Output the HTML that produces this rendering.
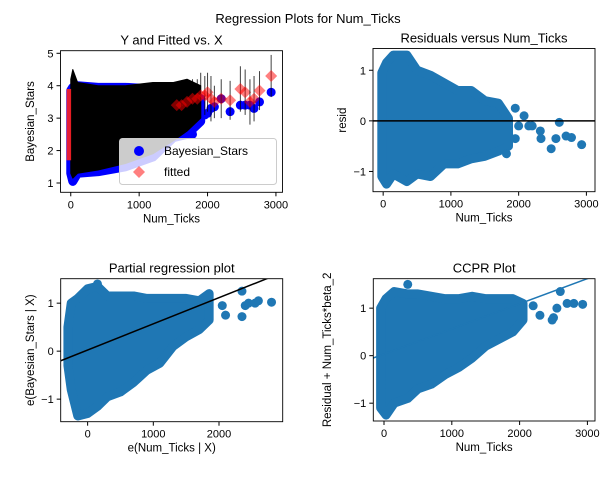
<!DOCTYPE html>
<html><head><meta charset="utf-8"><style>
body{margin:0;background:#fff;}
svg text{font-family:"Liberation Sans","DejaVu Sans",sans-serif;fill:#000;}
</style></head><body>
<svg id="fig" width="616" height="475" xmlns="http://www.w3.org/2000/svg">
<text x="308" y="23" font-size="13" text-anchor="middle">Regression Plots for Num_Ticks</text>
</svg>
<script>
// ---- data ----
// Panel 1: Y and fitted vs X
const p1EnvX=[0,30,100,400,800,1200,1500,1700,1900];
const p1BlueHi=[3.85,3.95,4.0,3.95,3.95,3.9,3.85,3.7,3.6];
const p1BlueLo=[1.3,1.05,1.3,1.35,1.5,1.8,2.4,2.5,2.9];
const p1ErrHi=[4.2,4.5,4.1,4.0,4.0,4.1,4.1,4.2,4.0];
const p1ErrLo=[1.3,1.15,1.3,1.4,1.6,1.9,2.3,2.6,3.0];
const p1SparseX=[1550,1620,1700,1780,1850,1900,1960,2000,2050,2100,2200,2330,2480,2550,2620,2680,2760,2930];
const p1SparseY=[2.6,3.8,2.9,2.5,3.2,3.6,3.1,3.15,3.3,3.35,3.6,3.2,3.4,3.4,3.4,3.3,3.5,3.8];
const p1SparseFit=[3.4,3.4,3.5,3.6,3.6,3.7,3.7,3.8,3.6,3.5,3.6,3.55,3.9,3.8,3.5,3.6,3.85,4.3];
const p1SparseErr=[0.6,0.7,0.6,0.6,0.6,0.7,0.6,0.6,0.7,0.5,0.6,0.6,0.7,0.7,0.7,0.7,0.6,0.65];
// Panel 2: residuals
const p2EnvX=[-20,50,150,350,500,700,900,1100,1300,1500,1700,1850];
const p2Hi=[0.95,1.15,1.3,1.3,1.0,0.9,0.75,0.6,0.6,0.4,0.35,0.05];
const p2Lo=[-1.1,-1.25,-1.05,-1.2,-1.05,-1.1,-0.85,-0.85,-0.75,-0.7,-0.6,-0.5];
const p2SparseX=[1950,2000,2080,2150,2200,2320,2330,2480,2550,2600,2700,2780,2930,1820,1950];
const p2SparseY=[0.25,-0.1,0.1,-0.1,-0.1,-0.2,-0.35,-0.55,-0.35,-0.03,-0.3,-0.33,-0.47,-0.65,-0.35];
// Panel 3: partial regression
const p3EnvX=[-300,-250,-150,0,150,300,500,700,900,1100,1300,1500,1700,1850];
const p3Hi=[0.5,1.0,1.1,1.3,1.35,1.15,1.15,1.15,1.1,1.1,1.1,1.1,1.05,1.2];
const p3Lo=[-0.3,-0.8,-1.35,-1.3,-1.15,-0.95,-0.85,-0.65,-0.4,-0.25,0.1,0.3,0.45,0.65];
const p3SparseX=[2050,2100,2350,2400,2450,2550,2600,2800,2350,150];
const p3SparseY=[0.95,0.75,0.72,0.95,1.0,1.0,1.05,1.02,1.25,1.4];
const p3Line=[-410,-0.2,2800,1.55];
// Panel 4: CCPR
const p4EnvX=[-50,30,150,350,500,700,900,1100,1300,1500,1700,1900,2050];
const p4Hi=[1.0,1.2,1.35,1.3,1.3,1.25,1.2,1.2,1.25,1.2,1.2,1.2,1.1];
const p4Lo=[-1.1,-1.25,-1.0,-0.9,-0.7,-0.6,-0.4,-0.25,-0.05,0.2,0.35,0.5,0.75];
const p4SparseX=[350,2200,2300,2500,2550,2600,2700,2800,2930,2480];
const p4SparseY=[1.5,1.05,0.85,0.8,1.0,1.35,1.1,1.1,1.08,0.75];
const p4Line=[-160,-0.05,3110,1.68];

const xTicksA=[0,1000,2000,3000];
const xTicksB=[0,1000,2000];
const p1YTicks=[1,2,3,4,5];
const resYTicks=[-1,0,1];

const NS="http://www.w3.org/2000/svg";
const fig=document.getElementById('fig');
function el(tag,attrs,parent){const e=document.createElementNS(NS,tag);for(const k in attrs)e.setAttribute(k,attrs[k]);(parent||fig).appendChild(e);return e;}
function scale(d0,d1,r0,r1){return v=>r0+(v-d0)/(d1-d0)*(r1-r0);}

function panel(c){
  const g=el('g',{});
  
  
  const sx=scale(c.xd[0],c.xd[1],c.L,c.R), sy=scale(c.yd[0],c.yd[1],c.B,c.T);
  const cid='clip-'+c.name;
  const cp=el('clipPath',{id:cid},g);el('rect',{x:c.L,y:c.T,width:c.R-c.L,height:c.B-c.T},cp);
  const plot=el('g',{'clip-path':'url(#'+cid+')'},g);
  c.draw(plot,sx,sy);
  const frame=el('rect',{x:c.L,y:c.T,width:c.R-c.L,height:c.B-c.T,fill:'none',stroke:'#000','stroke-width':0.9},g);
  
  
  c.xt.forEach(v=>{const x=sx(v);el('line',{x1:x,x2:x,y1:c.B,y2:c.B+4,stroke:'#000'},g);
    const t=el('text',{x:x,y:c.B+16,'font-size':11,'text-anchor':'middle'},g);t.textContent=v;
    
    });
  c.yt.forEach(v=>{const y=sy(v);el('line',{x1:c.L-4,x2:c.L,y1:y,y2:y,stroke:'#000'},g);
    const t=el('text',{x:c.L-7,y:y+4,'font-size':11,'text-anchor':'end'},g);t.textContent=v<0?'\u2212'+(-v):v;
    
    });
  const ti=el('text',{x:(c.L+c.R)/2,y:c.T-6,'font-size':13,'text-anchor':'middle'},g);ti.textContent=c.title;
  
  
  const xl=el('text',{x:(c.L+c.R)/2,y:c.B+30,'font-size':11.5,'text-anchor':'middle'},g);xl.textContent=c.xl;
  
  
  const yl=el('text',{x:0,y:0,'font-size':11.5,'text-anchor':'middle',transform:`translate(${c.ylx},${(c.T+c.B)/2}) rotate(-90)`},g);yl.textContent=c.yl;
  
  
}
function envelope(p,sx,sy,xs,hi,lo,color,sw){
  let pts=xs.map((x,i)=>sx(x)+','+sy(hi[i]));
  for(let i=xs.length-1;i>=0;i--)pts.push(sx(xs[i])+','+sy(lo[i]));
  const e=el('polygon',{points:pts.join(' '),fill:color,stroke:color,'stroke-width':sw,'stroke-linejoin':'round'},p);
  
  
}
function dots(p,sx,sy,xs,ys,color){
  xs.forEach((x,i)=>{const d=el('circle',{cx:sx(x),cy:sy(ys[i]),r:4.5,fill:color},p);
    
    });
}

panel({name:'y-fitted-panel',L:60.5,R:282.5,T:50.7,B:192.3,xd:[-150,3096],yd:[0.713,5.08],xt:xTicksA,yt:p1YTicks,
 title:'Y and Fitted vs. X',xl:'Num_Ticks',yl:'Bayesian_Stars',ylx:34,
 draw:(p,sx,sy)=>{
  envelope(p,sx,sy,p1EnvX,p1BlueHi,p1BlueLo,'#0000ff',9);
  dots(p,sx,sy,p1SparseX,p1SparseY,'#0000ff');
  envelope(p,sx,sy,p1EnvX,p1ErrHi,p1ErrLo,'#000',1);
  const r=el('rect',{x:sx(-60),y:sy(3.9),width:sx(5)-sx(-60),height:sy(1.7)-sy(3.9),fill:'#ff2020',opacity:0.9},p);
  
  
  p1SparseX.forEach((x,i)=>{
    const l=el('line',{x1:sx(x),x2:sx(x),y1:sy(p1SparseFit[i]-p1SparseErr[i]),y2:sy(p1SparseFit[i]+p1SparseErr[i]),stroke:'#000','stroke-width':1,opacity:0.75},p);
    
    
    const X=sx(x),Y=sy(p1SparseFit[i]);
    const d=el('polygon',{points:`${X},${Y-6} ${X+6},${Y} ${X},${Y+6} ${X-6},${Y}`,fill:'#ff0000',opacity:0.5},p);
    
    
  });
 }});
// legend
{const lg=el('g',{});
 
 
 el('rect',{x:119.5,y:138.5,width:157,height:46,rx:3,fill:'#fff','fill-opacity':0.8,stroke:'#ccc'},lg);
 el('circle',{cx:139,cy:151,r:5,fill:'#0000ff'},lg);
 el('polygon',{points:'139,166 145,172 139,178 133,172',fill:'#ff0000',opacity:0.5},lg);
 const t1=el('text',{x:164,y:155,'font-size':12},lg);t1.textContent='Bayesian_Stars';
 
 
 const t2=el('text',{x:164,y:176,'font-size':12},lg);t2.textContent='fitted';
 
 }

panel({name:'residuals-panel',L:373,R:595,T:48.5,B:191.7,xd:[-150,3127],yd:[-1.40,1.43],xt:xTicksA,yt:resYTicks,
 title:'Residuals versus Num_Ticks',xl:'Num_Ticks',yl:'resid',ylx:346,
 draw:(p,sx,sy)=>{
  envelope(p,sx,sy,p2EnvX,p2Hi,p2Lo,'#1f77b4',9);
  dots(p,sx,sy,p2SparseX,p2SparseY,'#1f77b4');
  const z=el('line',{x1:sx(-200),x2:sx(3200),y1:sy(0),y2:sy(0),stroke:'#000','stroke-width':1.5},p);
  
  
 }});

panel({name:'partial-regression-panel',L:60.7,R:282.7,T:278.7,B:421.7,xd:[-410,2970],yd:[-1.47,1.51],xt:xTicksB,yt:resYTicks,
 title:'Partial regression plot',xl:'e(Num_Ticks | X)',yl:'e(Bayesian_Stars | X)',ylx:34,
 draw:(p,sx,sy)=>{
  envelope(p,sx,sy,p3EnvX,p3Hi,p3Lo,'#1f77b4',9);
  dots(p,sx,sy,p3SparseX,p3SparseY,'#1f77b4');
  const l=el('line',{x1:sx(p3Line[0]),y1:sy(p3Line[1]),x2:sx(p3Line[2]),y2:sy(p3Line[3]),stroke:'#000','stroke-width':1.5},p);
  
  
 }});

panel({name:'ccpr-panel',L:373.3,R:595,T:278.7,B:421,xd:[-158,3112],yd:[-1.375,1.62],xt:xTicksA,yt:resYTicks,
 title:'CCPR Plot',xl:'Num_Ticks',yl:'Residual + Num_Ticks*beta_2',ylx:331,
 draw:(p,sx,sy)=>{
  envelope(p,sx,sy,p4EnvX,p4Hi,p4Lo,'#1f77b4',9);
  dots(p,sx,sy,p4SparseX,p4SparseY,'#1f77b4');
  const l=el('line',{x1:sx(p4Line[0]),y1:sy(p4Line[1]),x2:sx(p4Line[2]),y2:sy(p4Line[3]),stroke:'#1f77b4','stroke-width':1.5},p);
  
  
 }});
</script>
</body></html>
